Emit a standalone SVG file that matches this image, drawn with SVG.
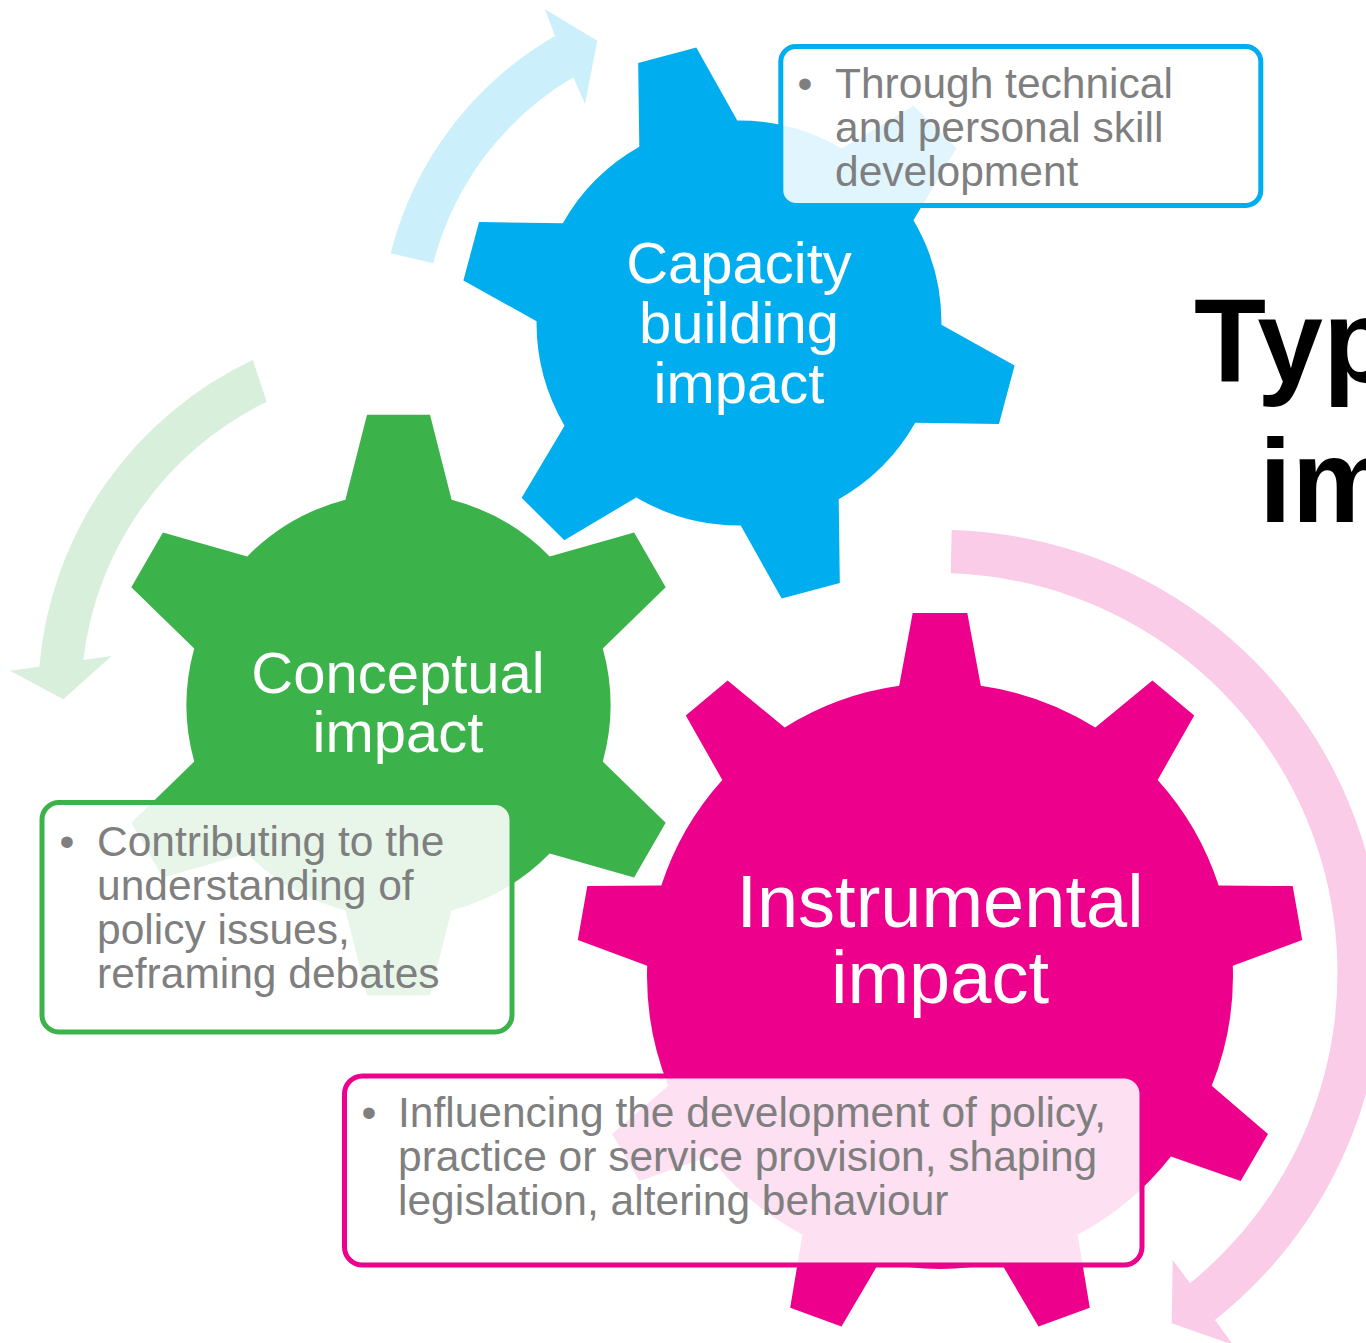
<svg xmlns="http://www.w3.org/2000/svg" xmlns:xlink="http://www.w3.org/1999/xlink" width="1366" height="1343" viewBox="0 0 1366 1343">
<defs>
<style>
.gl{font-family:"Liberation Sans",Arial,sans-serif;fill:#ffffff;text-anchor:middle}
.bt{font-family:"Liberation Sans",Arial,sans-serif;fill:#7f7f7f;font-size:42.5px}
.title{font-family:"Liberation Sans",Arial,sans-serif;font-weight:bold;font-size:118px;fill:#000000}
.box{fill:#ffffff;fill-opacity:0.88;stroke-width:5}
</style>
<path id="gear6" d="M -53.1,-205.2 L -31.5,-290.3 L 31.5,-290.3 L 53.1,-205.2 A 212 212 0 0 1 151.2,-148.6 L 235.6,-172.5 L 267.2,-117.8 L 204.3,-56.6 A 212 212 0 0 1 204.3,56.6 L 267.2,117.8 L 235.6,172.5 L 151.2,148.6 A 212 212 0 0 1 53.1,205.2 L 31.5,290.3 L -31.5,290.3 L -53.1,205.2 A 212 212 0 0 1 -151.2,148.6 L -235.6,172.5 L -267.2,117.8 L -204.3,56.6 A 212 212 0 0 1 -204.3,-56.6 L -267.2,-117.8 L -235.6,-172.5 L -151.2,-148.6 A 212 212 0 0 1 -53.1,-205.2 Z"/>
<path id="gear9" d="M -40.8,-290.2 L -27.3,-363 L 27.3,-363 L 40.8,-290.2 A 293 293 0 0 1 155.3,-248.5 L 212.4,-295.6 L 254.2,-260.5 L 217.7,-196.1 A 293 293 0 0 1 278.7,-90.5 L 352.7,-89.9 L 362.2,-36.1 L 292.8,-10.2 A 293 293 0 0 1 271.7,109.8 L 328,157.9 L 300.7,205.1 L 230.9,180.4 A 293 293 0 0 1 137.6,258.7 L 149.8,331.7 L 98.5,350.4 L 60.9,286.6 A 293 293 0 0 1 -60.9,286.6 L -98.5,350.4 L -149.8,331.7 L -137.6,258.7 A 293 293 0 0 1 -230.9,180.4 L -300.7,205.1 L -328,157.9 L -271.7,109.8 A 293 293 0 0 1 -292.8,-10.2 L -362.2,-36.1 L -352.7,-89.9 L -278.7,-90.5 A 293 293 0 0 1 -217.7,-196.1 L -254.2,-260.5 L -212.4,-295.6 L -155.3,-248.5 A 293 293 0 0 1 -40.8,-290.2 Z"/>
</defs>
<rect width="1366" height="1343" fill="#ffffff"/>
<g id="connectors">
<path id="arrow-blue" fill="#ccefFC" d="M 390.7,253.3 A 348 348 0 0 1 555,36 L 545,9.3 L 597.3,40.7 L 585,104 L 573.3,77.3 A 304 304 0 0 0 433.3,263.3 Z"/>
<path id="arrow-green" fill="#d8f0db" d="M 252.7,360 A 374 374 0 0 0 39.3,666.7 L 10,670.7 L 63.3,699.3 L 111.7,656 L 83.3,660 A 330 330 0 0 1 266.7,401.7 Z"/>
<path id="arrow-pink" fill="#fbcce8" d="M 951.7,530 A 443 443 0 0 1 1215,1320 L 1233,1344.8 L 1171.7,1323.3 L 1172.7,1260 L 1190,1283.3 A 400 400 0 0 0 950.7,573.3 Z"/>
</g>
<g id="node-capacity">
<use xlink:href="#gear6" href="#gear6" transform="translate(739,323) rotate(-15) scale(0.955)" fill="#00aeef"/>
<text class="gl" font-size="58" x="739" y="283">Capacity</text>
<text class="gl" font-size="58" x="739" y="343">building</text>
<text class="gl" font-size="58" x="739" y="403">impact</text>
</g>
<g id="node-conceptual">
<use xlink:href="#gear6" href="#gear6" transform="translate(398.5,705)" fill="#3bb34a"/>
<text class="gl" font-size="58" x="398" y="693">Conceptual</text>
<text class="gl" font-size="58" x="398" y="752">impact</text>
</g>
<g id="node-instrumental">
<use xlink:href="#gear9" href="#gear9" transform="translate(940,976)" fill="#ec008c"/>
<text class="gl" font-size="74" x="940" y="927">Instrumental</text>
<text class="gl" font-size="74" x="940" y="1003">impact</text>
</g>
<g id="note-capacity">
<rect class="box" x="780.8" y="46.5" width="480" height="159" rx="15" stroke="#00aeef"/>
<text class="bt" x="797.5" y="98">•</text>
<text class="bt" x="835" y="98">Through technical</text>
<text class="bt" x="835" y="142">and personal skill</text>
<text class="bt" x="835" y="186">development</text>
</g>
<g id="note-conceptual">
<rect class="box" x="42" y="802.5" width="470" height="229.5" rx="17" stroke="#3bb34a"/>
<text class="bt" x="59.5" y="856">•</text>
<text class="bt" x="97" y="856">Contributing to the</text>
<text class="bt" x="97" y="900">understanding of</text>
<text class="bt" x="97" y="944">policy issues,</text>
<text class="bt" x="97" y="988">reframing debates</text>
</g>
<g id="note-instrumental">
<rect class="box" x="344.5" y="1076" width="797.5" height="189" rx="18" stroke="#ec008c"/>
<text class="bt" x="361.5" y="1127">•</text>
<text class="bt" x="398" y="1127">Influencing the development of policy,</text>
<text class="bt" x="398" y="1171">practice or service provision, shaping</text>
<text class="bt" x="398" y="1215">legislation, altering behaviour</text>
</g>
<g id="title">
<text class="title" x="1194" y="382">Typ</text>
<text class="title" x="1259" y="522">im</text>
</g>
</svg>
